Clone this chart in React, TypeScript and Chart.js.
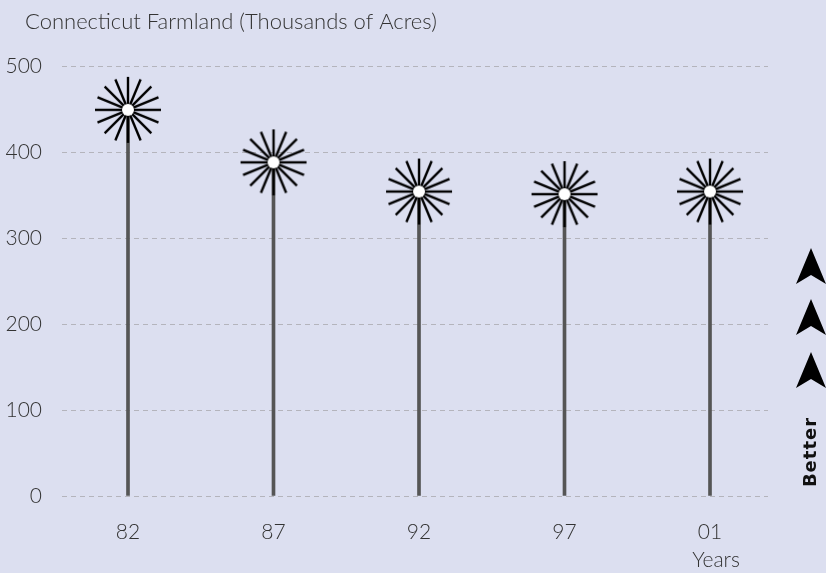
import React, { useEffect, useRef } from "react";
import { Chart, registerables } from "chart.js";

Chart.register(...registerables);

const categories = ["82", "87", "92", "97", "01"];
const farmland = [449, 388, 354, 351, 354];
const yTicks = [0, 100, 200, 300, 400, 500];
const titleText = "Connecticut Farmland (Thousands of Acres)";
const xAxisTitle = "Years";
const betterText = "Better";

const BG = "#dcdff0";
const FONT = "Lato";

function makeStarburst(): HTMLCanvasElement {
  const c = document.createElement("canvas");
  const size = 72;
  c.width = size;
  c.height = size;
  const ctx = c.getContext("2d")!;
  const cx = size / 2;
  const cy = size / 2;
  ctx.strokeStyle = "#000";
  ctx.lineWidth = 2.4;
  ctx.lineCap = "butt";
  for (let i = 0; i < 16; i++) {
    const a = (i * Math.PI) / 8;
    ctx.beginPath();
    ctx.moveTo(cx + Math.cos(a) * 4, cy + Math.sin(a) * 4);
    ctx.lineTo(cx + Math.cos(a) * 33, cy + Math.sin(a) * 33);
    ctx.stroke();
  }
  ctx.fillStyle = "#fff";
  ctx.beginPath();
  ctx.arc(cx, cy, 6, 0, Math.PI * 2);
  ctx.fill();
  return c;
}

const decorPlugin = {
  id: "decor",
  beforeDraw(chart: any) {
    const { ctx, width, height } = chart;
    ctx.save();
    ctx.fillStyle = BG;
    ctx.fillRect(0, 0, width, height);
    ctx.restore();
  },
  afterDraw(chart: any) {
    const { ctx } = chart;
    ctx.save();
    // title
    ctx.fillStyle = "#333";
    ctx.font = `300 22px ${FONT}`;
    ctx.textAlign = "left";
    ctx.textBaseline = "middle";
    ctx.fillText(titleText, 25, 22);
    // x axis title
    ctx.font = `300 21px ${FONT}`;
    ctx.textAlign = "center";
    ctx.fillText(xAxisTitle, 716, 560);
    // arrows
    ctx.fillStyle = "#000";
    const tops = [248, 299, 352];
    tops.forEach((t) => {
      const cx = 811;
      ctx.beginPath();
      ctx.moveTo(cx, t);
      ctx.lineTo(cx + 15, t + 36);
      ctx.lineTo(cx, t + 27);
      ctx.lineTo(cx - 15, t + 36);
      ctx.closePath();
      ctx.fill();
    });
    // Better
    ctx.translate(811, 452);
    ctx.rotate(-Math.PI / 2);
    ctx.font = `bold 18px "DejaVu Sans"`;
    (ctx as any).letterSpacing = "1px";
    ctx.textAlign = "center";
    ctx.textBaseline = "middle";
    ctx.fillStyle = "#111";
    ctx.fillText(betterText, 0, 0);
    ctx.restore();
  },
};

export default function App() {
  const ref = useRef<HTMLCanvasElement>(null);
  useEffect(() => {
    if (!ref.current) return;
    const star = makeStarburst();
    const points = farmland.map((v, i) => ({ x: i, y: v }));
    const chart = new Chart(ref.current, {
      type: "bar",
      data: {
        datasets: [
          {
            type: "line" as any,
            data: points,
            showLine: false,
            pointStyle: star as any,
            pointRadius: 33,
            pointHoverRadius: 33,
            order: 0,
          } as any,
          {
            type: "bar",
            data: points,
            backgroundColor: "#555555",
            borderWidth: 0,
            barThickness: 3,
            order: 1,
          } as any,
        ],
      },
      plugins: [decorPlugin],
      options: {
        responsive: false,
        animation: false,
        events: [],
        layout: { padding: { left: 0, top: 66, right: 58, bottom: 0 } },
        plugins: {
          legend: { display: false },
          tooltip: { enabled: false },
          title: { display: false },
        },
        scales: {
          x: {
            type: "linear",
            offset: false,
            min: -0.4536,
            max: 4.3986,
            grid: { display: false, drawTicks: false, offset: false },
            border: { display: false },
            afterBuildTicks: (s: any) => {
              s.ticks = categories.map((_, i) => ({ value: i }));
            },
            afterFit: (s: any) => {
              s.height = 77;
            },
            ticks: {
              autoSkip: false,
              maxRotation: 0,
              padding: 24,
              color: "#333",
              font: { family: FONT, size: 21, weight: "300" as any },
              callback: (v: any) => categories[v as number] ?? "",
            },
          },
          y: {
            type: "linear",
            min: 0,
            max: 500,
            afterBuildTicks: (s: any) => {
              s.ticks = yTicks.map((v) => ({ value: v }));
            },
            afterFit: (s: any) => {
              s.width = 62;
            },
            grid: {
              color: "#b4b4bc",
              lineWidth: 1,
              drawTicks: false,
            },
            border: { display: false, dash: [5, 4] },
            ticks: {
              padding: 20,
              color: "#333",
              font: { family: FONT, size: 21, weight: "300" as any },
            },
          },
        },
      } as any,
    });
    return () => chart.destroy();
  }, []);
  return (
    <div style={{ position: "absolute", left: 0, top: 0, width: 826, height: 573 }}>
      <canvas ref={ref} width={826} height={573} />
    </div>
  );
}
